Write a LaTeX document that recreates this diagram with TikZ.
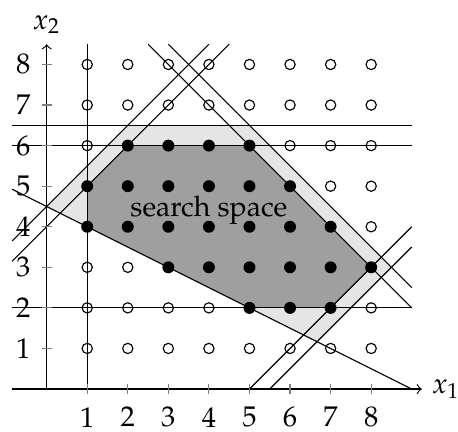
\documentclass[tikz,border=0pt]{standalone}
\usepackage[T1]{fontenc}
\usepackage{mathpazo}

\begin{document}
\begin{tikzpicture}[x=0.5cm, y=0.5cm,
    cutline/.style={black, thin},
    ticks/.style={gray, thin},
    intpt/.style={fill=black},
    openpt/.style={draw=black, thin}]
    \useasboundingbox (-1.15,-1.05) rectangle (10.14,9.59);

    % relaxation and integer hull
    \fill[gray!20] (0,4.5) -- (2,6.5) -- (5,6.5) -- (8.5,3) -- (20/3,7/6) -- cycle;
    \fill[gray!75] (1,4) -- (1,5) -- (2,6) -- (5,6) -- (8,3) -- (7,2) -- (5,2) -- cycle;

    % constraints and cuts
    \draw[cutline] (-0.85,4.925) -- (9,0);
    \draw[cutline] (-0.85,3.15) -- (4.5,8.5);
    \draw[cutline] (-0.85,3.65) -- (4,8.5);
    \draw[cutline] (2.5,8.5) -- (9,2);
    \draw[cutline] (3,8.5) -- (9,2.5);
    \draw[cutline] (5,0) -- (9,4);
    \draw[cutline] (5.5,0) -- (9,3.5);
    \foreach \h in {2,6,6.5}
        \draw[cutline] (-0.85,\h) -- (9,\h);
    \draw[cutline] (1,0) -- (1,8.5);

    % axes
    \coordinate (o) at (0,0);
    \coordinate (xs) at (-0.85,0);
    \draw[->] (xs) -- (9.25,0) node[right] (xlab) {\(x_1\)};
    \draw[->] (o) -- (0,8.5) node[above] (ylab) {\(x_2\)};
    \foreach \k in {1,...,8} {
        \draw[ticks] (\k,-0.12) -- (\k,0.12);
        \node[below] (tx\k) at (\k,-0.2) {\(\k\)};
        \draw[ticks] (-0.12,\k) -- (0.12,\k);
        \node[left] (ty\k) at (-0.15,\k) {\(\k\)};
    }

    % lattice points
    \foreach \i in {1,...,8}
        \foreach \j in {1,...,8} {
            \pgfmathtruncatemacro{\inside}{and(and(\i+2*\j>=9,\j<=6.5),and(and(\j<=\i+4.5,\i+\j<=11.5),\j>=\i-5.5))}
            \ifnum\inside=1
                \fill[intpt] (\i,\j) circle (2.1pt);
            \else
                \draw[openpt] (\i,\j) circle (1.8pt);
            \fi
        }

    \node (space) at (4,4.4) {search space};
\end{tikzpicture}
\end{document}
